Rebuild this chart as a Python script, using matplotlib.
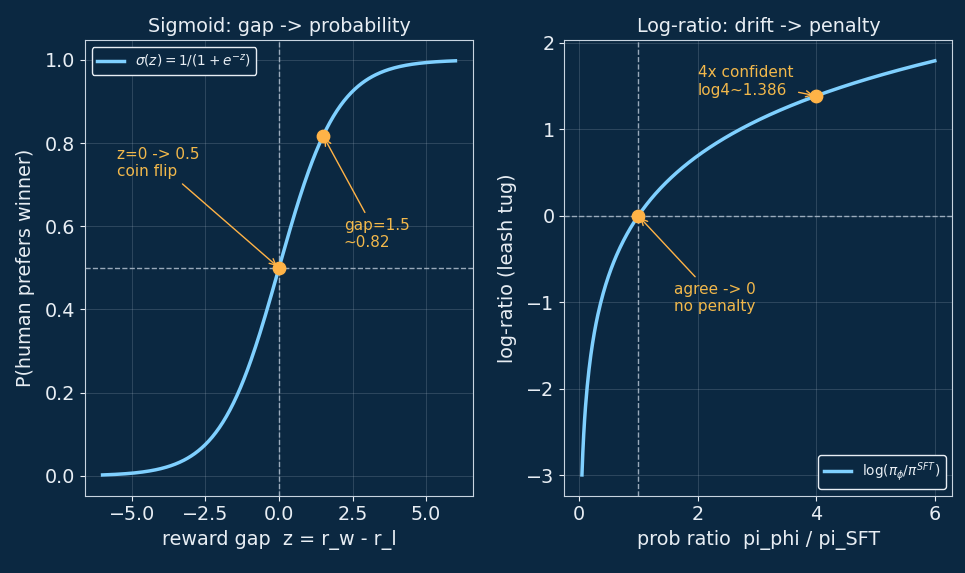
import numpy as np
import matplotlib
matplotlib.use("Agg")
import matplotlib.pyplot as plt
from matplotlib.ticker import MultipleLocator

# data
z_range = (-6, 6)
z_samples = 400
ratio_range = (0.05, 6)
sig_points_z = [0.0, 1.5]
sig_points_p = [0.5, 0.8176]
lr_points_r = [1.0, 4.0]
lr_points_v = [0.0, 1.386]

BG = "#0b2841"
LINE = "#7fd0ff"
ORANGE = "#ffb347"
ATXT = "#f2b84b"
FG = "#e8eef4"
REF = "#a9b8c8"

plt.rcParams.update({
    "figure.facecolor": BG, "axes.facecolor": BG, "savefig.facecolor": BG,
    "text.color": FG, "axes.labelcolor": FG, "xtick.color": FG, "ytick.color": FG,
    "axes.edgecolor": "#c8d4e0", "font.size": 13.8,
})

fig, (ax1, ax2) = plt.subplots(1, 2, figsize=(9.65, 5.73), dpi=100)
fig.subplots_adjust(left=0.088, right=0.987, top=0.93, bottom=0.135, wspace=0.235)

z = np.linspace(z_range[0], z_range[1], z_samples)
sig = 1 / (1 + np.exp(-z))
ax1.plot(z, sig, color=LINE, lw=2.5, label=r"$\sigma(z) = 1/(1+e^{-z})$", zorder=3)
ax1.axvline(0, color=REF, ls="--", lw=1, alpha=0.9)
ax1.axhline(0.5, color=REF, ls="--", lw=1, alpha=0.9)
ax1.scatter(sig_points_z, sig_points_p, color=ORANGE, s=80, zorder=5)
ax1.annotate("z=0 -> 0.5\ncoin flip", xy=(0, 0.5), xytext=(-5.5, 0.72),
             color=ATXT, fontsize=11,
             arrowprops=dict(arrowstyle="->", color=ORANGE, lw=1))
ax1.annotate("gap=1.5\n~0.82", xy=(1.5, 0.8176), xytext=(2.2, 0.55),
             color=ATXT, fontsize=11,
             arrowprops=dict(arrowstyle="->", color=ORANGE, lw=1))
ax1.set_title("Sigmoid: gap -> probability", fontsize=13.8)
ax1.set_xlabel("reward gap  z = r_w - r_l")
ax1.set_ylabel("P(human prefers winner)", labelpad=7)
ax1.xaxis.set_major_locator(MultipleLocator(2.5))
ax1.grid(True, color=REF, alpha=0.25, lw=0.6)
leg = ax1.legend(loc="upper left", fontsize=9.8, facecolor=BG, edgecolor=FG, framealpha=1)
for t in leg.get_texts():
    t.set_color(FG)

r = np.linspace(ratio_range[0], ratio_range[1], z_samples)
lr = np.log(r)
ax2.plot(r, lr, color=LINE, lw=2.5, label=r"$\log(\pi_\phi/\pi^{SFT})$", zorder=3)
ax2.axvline(1, color=REF, ls="--", lw=1, alpha=0.9)
ax2.axhline(0, color=REF, ls="--", lw=1, alpha=0.9)
ax2.scatter(lr_points_r, lr_points_v, color=ORANGE, s=80, zorder=5)
ax2.annotate("4x confident\nlog4~1.386", xy=(4, 1.386), xytext=(2.0, 1.4),
             color=ATXT, fontsize=11,
             arrowprops=dict(arrowstyle="->", color=ORANGE, lw=1))
ax2.annotate("agree -> 0\nno penalty", xy=(1, 0), xytext=(1.6, -1.1),
             color=ATXT, fontsize=11,
             arrowprops=dict(arrowstyle="->", color=ORANGE, lw=1))
ax2.set_title("Log-ratio: drift -> penalty", fontsize=13.8)
ax2.set_xlabel("prob ratio  pi_phi / pi_SFT")
ax2.set_ylabel("log-ratio (leash tug)", labelpad=7)
ax2.grid(True, color=REF, alpha=0.25, lw=0.6)
leg2 = ax2.legend(loc="lower right", fontsize=9.8, facecolor=BG, edgecolor=FG, framealpha=1)
for t in leg2.get_texts():
    t.set_color(FG)

fig.savefig("out.png", dpi=100, facecolor=BG)
